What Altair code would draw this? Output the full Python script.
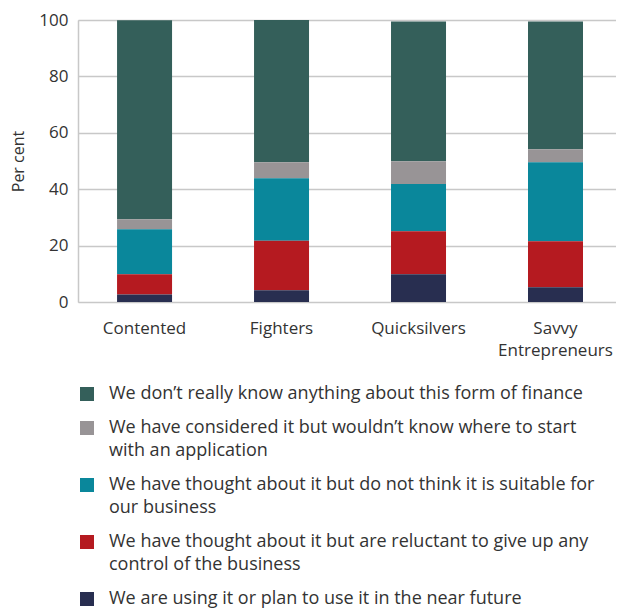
import altair as alt
import pandas as pd

categories = ["Contented", "Fighters", "Quicksilvers", "Savvy Entrepreneurs"]
responses = [
    "We don’t really know anything about this form of finance",
    "We have considered it but wouldn’t know where to start|with an application",
    "We have thought about it but do not think it is suitable for|our business",
    "We have thought about it but are reluctant to give up any|control of the business",
    "We are using it or plan to use it in the near future",
]
colors = ["#345f5a", "#989496", "#0a879b", "#b51a20", "#282e50"]

dont_know = [70.6, 50.4, 49.6, 45.3]
considered = [3.5, 5.7, 8.1, 4.6]
not_suitable = [16.0, 22.2, 16.7, 28.1]
reluctant = [7.1, 17.5, 15.3, 16.3]
using = [2.7, 4.2, 9.8, 5.2]

series = [dont_know, considered, not_suitable, reluctant, using]
rows = []
for ri, (resp, vals) in enumerate(zip(responses, series)):
    for cat, v in zip(categories, vals):
        rows.append({"category": cat, "response": resp, "value": v, "order": len(responses) - ri})
df = pd.DataFrame(rows)

# legend swatch shapes: square, raised to the first text line for two-line labels
SQUARE = "M-1,-1H1V1H-1Z"
SQUARE_UP = "M-1,-2.643H1V-0.643H-1Z"
shapes = [SQUARE_UP if "|" in r else SQUARE for r in responses]

FONT = "Open Sans"
TXT = "#333333"


def make_legend():
    return alt.Legend(title=None, orient="none", legendX=0, legendY=365,
                      padding=0, direction="vertical", symbolSize=196,
                      symbolStrokeWidth=0, symbolOpacity=1,
                      labelFontSize=18, labelColor=TXT, labelFont=FONT,
                      labelLimit=600, labelOffset=13, rowPadding=16,
                      labelExpr="split(datum.label, '|')")


chart = alt.Chart(df).mark_bar().encode(
    x=alt.X("category:N", sort=categories, title=None,
            scale=alt.Scale(paddingInner=0.5985, paddingOuter=0.263, align=0.542),
            axis=alt.Axis(labelAngle=0, ticks=False, domain=False, labelPadding=18,
                          labelExpr="datum.label == 'Savvy Entrepreneurs' ? ['Savvy', 'Entrepreneurs'] : datum.label",
                          labelFontSize=17, labelColor=TXT, labelFont=FONT, labelLineHeight=22)),
    y=alt.Y("value:Q", stack="zero", title="Per cent",
            scale=alt.Scale(domain=[0, 100], nice=False),
            axis=alt.Axis(values=[0, 20, 40, 60, 80, 100], ticks=False, domain=True,
                          domainColor="#c8c8c8", domainWidth=1.5,
                          gridColor="#c8c8c8", gridWidth=1.5,
                          labelFontSize=17, labelColor=TXT, labelFont=FONT, labelPadding=10,
                          titleFontSize=16, titleFontWeight="normal", titleColor=TXT, titleFont=FONT,
                          titlePadding=12)),
    color=alt.Color("response:N", sort=responses,
                    scale=alt.Scale(domain=responses, range=colors),
                    legend=make_legend()),
    shape=alt.Shape("response:N", sort=responses,
                    scale=alt.Scale(domain=responses, range=shapes),
                    legend=make_legend()),
    order=alt.Order("order:Q"),
).properties(
    width=538, height=282,
    padding={"left": 70, "top": 12, "right": 0, "bottom": 306},
    autosize=alt.AutoSizeParams(type="none"),
).configure_view(stroke=None).configure_axis(grid=True).configure(
    style={"guide-label": {"lineHeight": 23}}
)

chart.save("out.html", embed_options={"renderer": "svg", "actions": False})
